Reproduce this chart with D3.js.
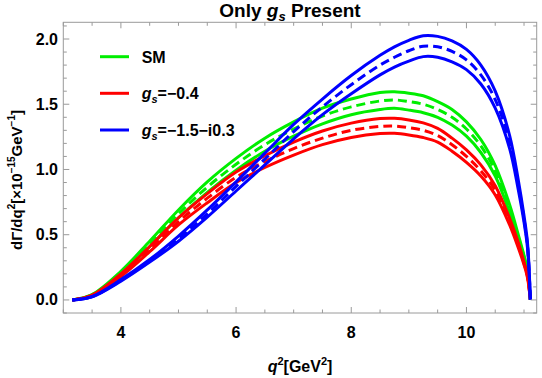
<!DOCTYPE html>
<html><head><meta charset="utf-8">
<script src="https://cdn.jsdelivr.net/npm/d3@7"></script>
<style>body{margin:0;background:#fff}svg{display:block}text{font-family:"Liberation Sans",Arial,sans-serif;font-weight:bold}</style>
</head><body><svg id="c" width="542" height="378"></svg>
<script>
const q2 = [3.157,3.5,4,4.5,5,5.5,6,6.5,7,7.5,8,8.5,8.75,9,9.25,9.5,9.75,10,10.25,10.5,10.75,10.9,11.0,11.06,11.11];
const smUp  = [0,0.042,0.22,0.45,0.69,0.905,1.085,1.24,1.365,1.47,1.54,1.59,1.596,1.585,1.565,1.52,1.46,1.365,1.23,1.03,0.73,0.50,0.34,0.23,0];
const smMid = [0,0.040,0.21,0.43,0.66,0.865,1.04,1.19,1.31,1.41,1.48,1.525,1.533,1.52,1.50,1.46,1.40,1.31,1.18,0.99,0.70,0.48,0.33,0.22,0];
const smLo  = [0,0.038,0.20,0.41,0.63,0.825,0.995,1.14,1.255,1.35,1.42,1.46,1.469,1.455,1.435,1.40,1.34,1.255,1.13,0.95,0.67,0.46,0.32,0.21,0];
const rUp   = [0,0.037,0.20,0.41,0.63,0.815,0.98,1.105,1.21,1.295,1.355,1.39,1.392,1.38,1.357,1.315,1.24,1.15,1.035,0.875,0.625,0.44,0.29,0.19,0];
const rMid  = [0,0.035,0.19,0.39,0.60,0.78,0.94,1.06,1.16,1.24,1.30,1.33,1.333,1.32,1.30,1.26,1.19,1.10,0.99,0.84,0.60,0.42,0.28,0.18,0];
const rLo   = [0,0.034,0.18,0.37,0.575,0.745,0.90,1.015,1.11,1.19,1.245,1.275,1.277,1.265,1.245,1.21,1.14,1.055,0.95,0.805,0.575,0.40,0.27,0.17,0];
const bUp   = [0,0.026,0.156,0.31,0.49,0.69,0.905,1.125,1.345,1.54,1.72,1.875,1.94,1.99,2.025,2.02,1.985,1.92,1.80,1.60,1.26,0.92,0.645,0.44,0];
const bMid  = [0,0.025,0.15,0.30,0.47,0.66,0.87,1.08,1.29,1.48,1.65,1.80,1.86,1.91,1.945,1.94,1.905,1.84,1.725,1.535,1.21,0.88,0.62,0.42,0];
const bLo   = [0,0.024,0.144,0.29,0.45,0.635,0.835,1.035,1.235,1.42,1.58,1.725,1.785,1.83,1.865,1.86,1.825,1.765,1.655,1.47,1.16,0.845,0.595,0.40,0];
const xTicks = [4,6,8,10];
const yTicks = [0.0,0.5,1.0,1.5,2.0];
const seriesNames = ["SM","gs=-0.4","gs=-1.5-i0.3"];
const seriesColors = ["#00ee00","#ff0000","#0000ff"];

const svg = d3.select("#c");
const L=63.3, R=536.7, T=22.3, B=313;
const x = d3.scaleLinear().domain([3.0,11.22]).range([L,R]);
const y = d3.scaleLinear().domain([-0.1,2.128]).range([B,T]);

const groups = [
  {c:seriesColors[0], lines:[smUp,smMid,smLo]},
  {c:seriesColors[1], lines:[rUp,rMid,rLo]},
  {c:seriesColors[2], lines:[bUp,bMid,bLo]}
];
const line = d3.line().x((d,i)=>x(q2[i])).y(d=>y(d)).curve(d3.curveCatmullRom.alpha(0.5));
const plot = svg.append("g");
groups.forEach(g=>{
  g.lines.forEach((arr,k)=>{
    plot.append("path").attr("d",line(arr)).attr("fill","none").attr("stroke",g.c)
      .attr("stroke-width",3).attr("stroke-dasharray",k===1?"9,5":null);
  });
});

// frame
const fc="#9a9a9a";
svg.append("rect").attr("x",L).attr("y",T).attr("width",R-L).attr("height",B-T).attr("fill","none").attr("stroke",fc).attr("stroke-width",1);
// ticks
const xMinor = d3.range(3.0,11.21,0.5);
xMinor.forEach(v=>{
  const maj = xTicks.includes(v);
  const len = maj?6:3.5;
  svg.append("line").attr("x1",x(v)).attr("x2",x(v)).attr("y1",B).attr("y2",B-len).attr("stroke",fc);
  svg.append("line").attr("x1",x(v)).attr("x2",x(v)).attr("y1",T).attr("y2",T+len).attr("stroke",fc);
});
const yMinor = d3.range(-0.1,2.12,0.1).map(v=>Math.round(v*10)/10);
yMinor.forEach(v=>{
  const maj = yTicks.some(t=>Math.abs(t-v)<1e-6);
  const len = maj?6:3.5;
  svg.append("line").attr("y1",y(v)).attr("y2",y(v)).attr("x1",L).attr("x2",L+len).attr("stroke",fc);
  svg.append("line").attr("y1",y(v)).attr("y2",y(v)).attr("x1",R).attr("x2",R-len).attr("stroke",fc);
});
xTicks.forEach(v=>{
  svg.append("text").attr("x",x(v)).attr("y",338).attr("text-anchor","middle").attr("font-size",16).text(v);
});
yTicks.forEach(v=>{
  svg.append("text").attr("x",58).attr("y",y(v)+5.5).attr("text-anchor","end").attr("font-size",16).text(v.toFixed(1));
});

// title
const tt = svg.append("text").attr("x",290).attr("y",17).attr("text-anchor","middle").attr("font-size",19);
tt.append("tspan").text("Only ");
tt.append("tspan").attr("font-style","italic").text("g");
tt.append("tspan").attr("font-style","italic").attr("font-size",13).attr("dy",4).text("s");
tt.append("tspan").attr("dy",-4).text(" Present");

// x label
const xl = svg.append("text").attr("x",300).attr("y",372).attr("text-anchor","middle").attr("font-size",16);
xl.append("tspan").attr("font-style","italic").text("q");
xl.append("tspan").attr("font-size",11).attr("dy",-7).text("2");
xl.append("tspan").attr("dy",7).text("[GeV");
xl.append("tspan").attr("font-size",11).attr("dy",-7).text("2");
xl.append("tspan").attr("dy",7).text("]");

// y label
const yl = svg.append("text").attr("transform","translate(22,180) rotate(-90)").attr("text-anchor","middle").attr("font-size",15);
yl.append("tspan").text("d\u0393/dq");
yl.append("tspan").attr("font-size",10).attr("dy",-7).text("2");
yl.append("tspan").attr("dy",7).text("[\u00d710");
yl.append("tspan").attr("font-size",10).attr("dy",-7).text("\u221215");
yl.append("tspan").attr("dy",7).text("GeV");
yl.append("tspan").attr("font-size",10).attr("dy",-7).text("\u22121");
yl.append("tspan").attr("dy",7).text("]");

// legend
const legY=[56.7,93.3,130];
groups.forEach((g,i)=>{
  svg.append("line").attr("x1",100).attr("x2",129).attr("y1",legY[i]).attr("y2",legY[i]).attr("stroke",g.c).attr("stroke-width",3);
  const t = svg.append("text").attr("x",141.7).attr("y",legY[i]+6).attr("font-size",16);
  if(i===0){ t.text(seriesNames[0]); }
  else {
    const val = seriesNames[i].split("=")[1].replace(/-/g,"\u2212");
    t.append("tspan").attr("font-style","italic").text("g");
    t.append("tspan").attr("font-style","italic").attr("font-size",11).attr("dy",4).text("s");
    t.append("tspan").attr("dy",-4).text("="+val);
  }
});
</script></body></html>
